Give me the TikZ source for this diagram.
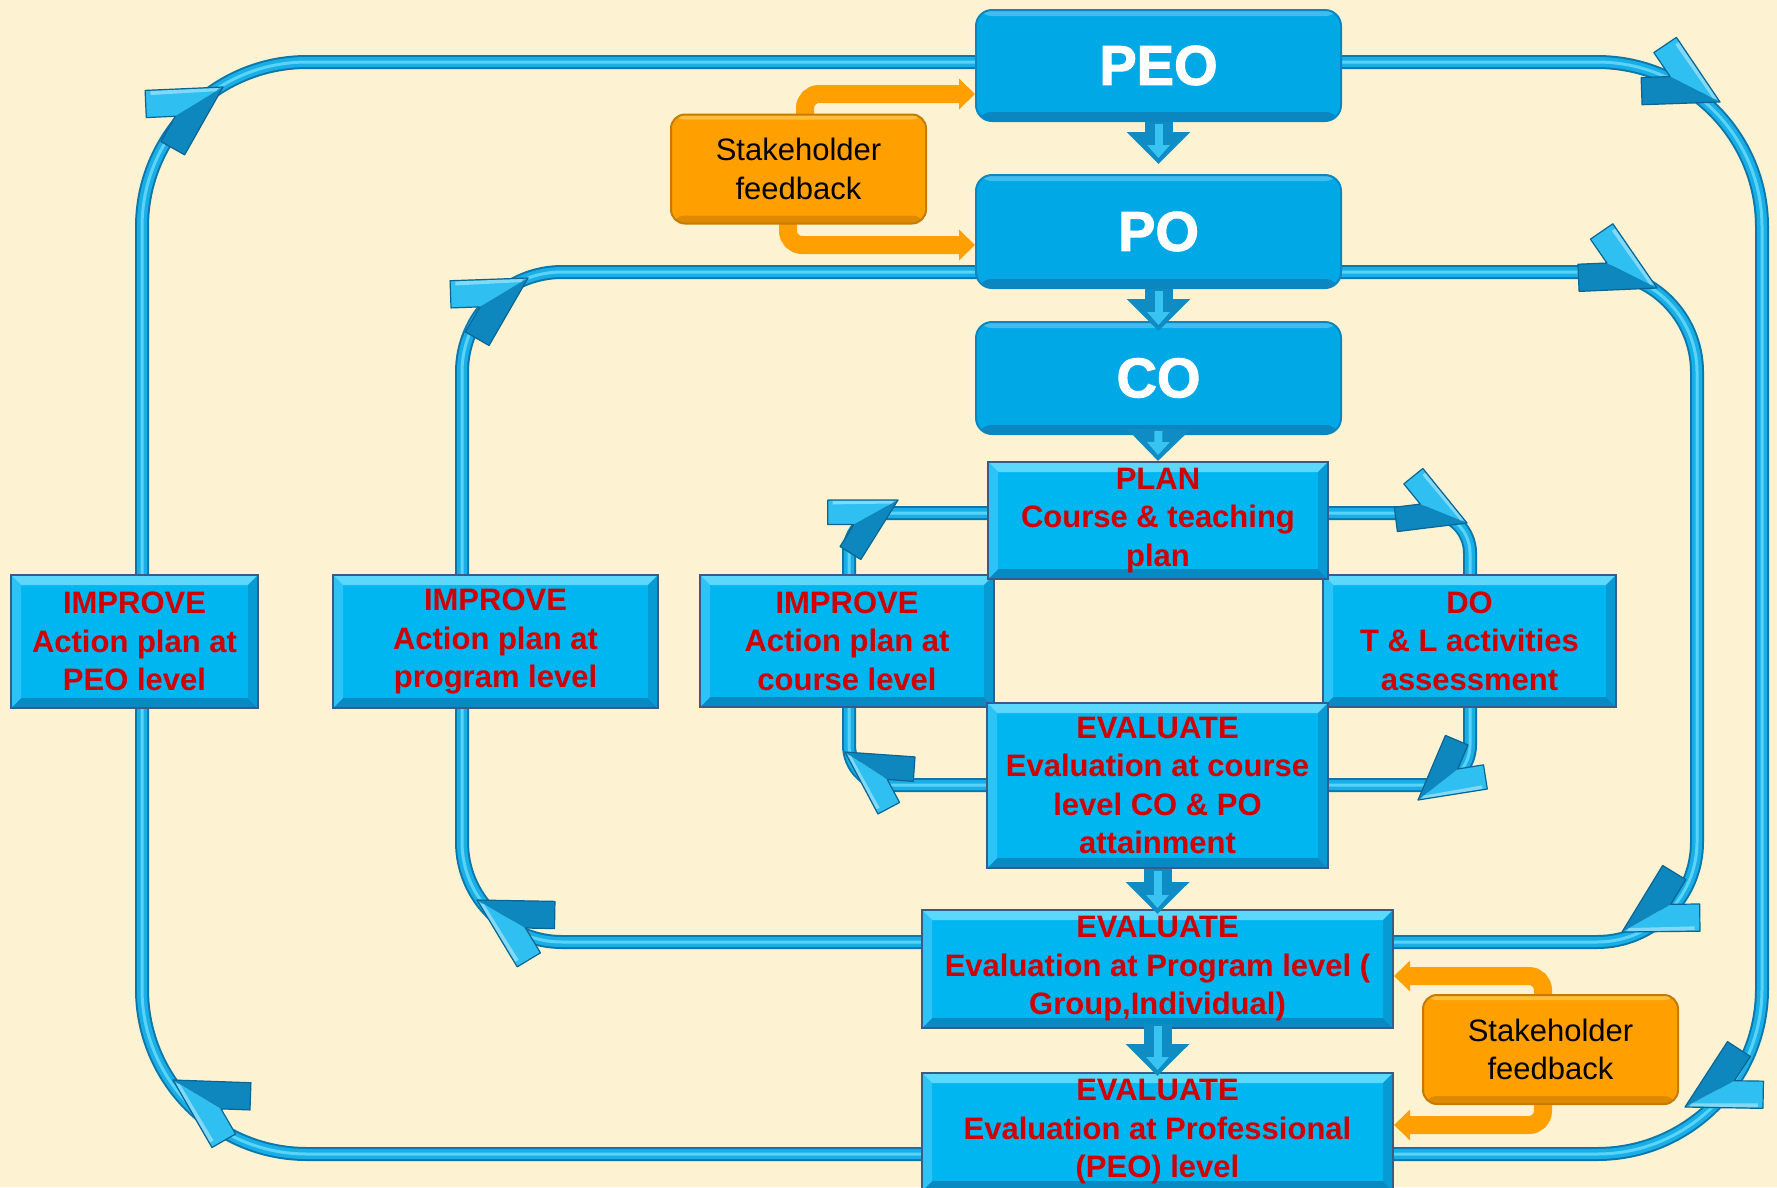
\documentclass[tikz,border=0pt]{standalone}
\usepackage{fontspec}
\setmainfont{Liberation Sans}
\newfontfamily\heavyfont{Liberation Sans}[FakeBold=1.8]
\usetikzlibrary{arrows.meta,calc}

\definecolor{bg}{HTML}{FDF3D3}
\definecolor{boxfill}{HTML}{00B6F0}
\definecolor{boxedge}{HTML}{3A5A88}
\definecolor{bevtop}{HTML}{5BD8FC}
\definecolor{bevleft}{HTML}{2CC4F6}
\definecolor{bevright}{HTML}{079BD3}
\definecolor{bevbot}{HTML}{0789C2}
\definecolor{topfill}{HTML}{00A8E6}
\definecolor{topedge}{HTML}{0A86C0}
\definecolor{redtxt}{HTML}{D00000}
\definecolor{tubedark}{HTML}{0B78AD}
\definecolor{tubemid}{HTML}{19AEE6}
\definecolor{tubelight}{HTML}{5AD3F8}
\definecolor{chevdark}{HTML}{0E86BE}
\definecolor{chevedge}{HTML}{0A6592}
\definecolor{chevlight}{HTML}{2FBFF1}
\definecolor{orng}{HTML}{FFA000}
\definecolor{orngdark}{HTML}{C77A00}
\definecolor{orngshade}{HTML}{DE8A00}
\definecolor{orngtop}{HTML}{FFBE3C}
\definecolor{arrowfill}{HTML}{0F8CC4}
\definecolor{arrowlight}{HTML}{38C4F2}

\newcommand\mychev[4]{%
  \begin{scope}[shift={(#1,#2)},rotate=#3,scale=#4]
  \fill[chevlight] (0,0) -- (-68.2,-37.8) -- (-81.4,-14) -- (-56,0) -- cycle;
  \fill[chevdark] (0,0) -- (-68.2,37.8) -- (-81.4,14) -- (-56,0) -- cycle;
  \fill[chevlight!60!white] (-4,-1.5) -- (-64,-34.5) -- (-66,-31) -- (-8,0) -- cycle;
  \draw[chevedge,line width=1.2pt,line join=round]
    (0,0) -- (-68.2,37.8) -- (-81.4,14) -- (-56,0) -- (-81.4,-14) -- (-68.2,-37.8) -- cycle;
  \end{scope}
}

\tikzset{
  bevelbox/.style={rectangle, draw=boxedge, line width=2pt, fill=boxfill,
    inner sep=0pt, align=center, text=redtxt,
    font=\fontsize{31}{38.5}\selectfont\bfseries,
    path picture={
      \fill[bevtop] (path picture bounding box.north west) -- (path picture bounding box.north east)
        -- ([xshift=-10pt,yshift=-10pt]path picture bounding box.north east)
        -- ([xshift=10pt,yshift=-10pt]path picture bounding box.north west) -- cycle;
      \fill[bevbot] (path picture bounding box.south west) -- (path picture bounding box.south east)
        -- ([xshift=-10pt,yshift=10pt]path picture bounding box.south east)
        -- ([xshift=10pt,yshift=10pt]path picture bounding box.south west) -- cycle;
      \fill[bevleft] (path picture bounding box.north west) -- (path picture bounding box.south west)
        -- ([xshift=10pt,yshift=10pt]path picture bounding box.south west)
        -- ([xshift=10pt,yshift=-10pt]path picture bounding box.north west) -- cycle;
      \fill[bevright] (path picture bounding box.north east) -- (path picture bounding box.south east)
        -- ([xshift=-10pt,yshift=10pt]path picture bounding box.south east)
        -- ([xshift=-10pt,yshift=-10pt]path picture bounding box.north east) -- cycle;
    }},
  roundbox/.style={rectangle, rounded corners=16pt, fill=topfill, draw=topedge, line width=2pt,
    inner sep=0pt, text=white, font=\heavyfont\bfseries\fontsize{56}{60}\selectfont,
    minimum width=365pt,
    path picture={
      \fill[topedge] ([yshift=9pt]path picture bounding box.south west) rectangle (path picture bounding box.south east);
      \fill[white,opacity=0.25] (path picture bounding box.north west) rectangle ([yshift=-6pt]path picture bounding box.north east);
    }},
  shbox/.style={rectangle, rounded corners=14pt, fill=orng, draw=orngdark, line width=2pt,
    inner sep=0pt, align=center, text=black, font=\fontsize{31}{38.5}\selectfont,
    minimum width=255pt, minimum height=109pt,
    path picture={
      \fill[orngshade] ([yshift=8pt]path picture bounding box.south west) rectangle (path picture bounding box.south east);
      \fill[orngtop] (path picture bounding box.north west) rectangle ([yshift=-5pt]path picture bounding box.north east);
    }},
  orarrow/.style={draw=orng, line width=18pt, rounded corners=14pt, -{Triangle[width=30pt,length=16pt]}},
  barrow/.style={draw=arrowfill, line width=28pt, -{Triangle[width=62pt,length=32pt]}},
  barrowin/.style={draw=arrowlight, line width=8pt, -{Triangle[width=22pt,length=13pt]}},
}

\begin{document}
\begin{tikzpicture}[x=1pt,y=-1pt]
\useasboundingbox (0,0) rectangle (1777,1187);
\fill[bg] (0,0) rectangle (1777,1187);

% loop extents
\coordinate (oNW) at (142,62);   \coordinate (oSE) at (1762,1154);
\coordinate (mNW) at (462,272);  \coordinate (mSE) at (1697,942);
\coordinate (iNW) at (849,513);  \coordinate (iSE) at (1470,785);

\foreach \lw/\lc in {14pt/tubedark,10pt/tubemid,3pt/tubelight}{
  \draw[line width=\lw, draw=\lc, rounded corners=165pt] (oNW) rectangle (oSE);
  \draw[line width=\lw, draw=\lc, rounded corners=100pt] (mNW) rectangle (mSE);
  \draw[line width=\lw, draw=\lc, rounded corners=40pt] (iNW) rectangle (iSE);
}

% chevrons
\mychev{223}{87}{31.5}{1}
\mychev{1720}{102}{-27}{1}
\mychev{1685}{1107}{208}{1}
\mychev{173}{1080}{149}{1}
\mychev{528}{278}{31}{1}
\mychev{1657}{288}{-26.5}{1}
\mychev{1622}{932}{209.6}{1}
\mychev{477}{900}{150}{1}
\mychev{898}{500}{29}{0.9}
\mychev{1467}{523}{-22}{0.9}
\mychev{1418}{800}{218}{0.9}
\mychev{845}{752}{147}{0.9}

% top column
\node[roundbox, minimum height=111pt] (PEO) at (1158.5,65.5) {PEO};
\node[roundbox, minimum height=113pt] (PO) at (1158.5,231.5) {PO};
\node[roundbox, minimum height=112pt] (CO) at (1158.5,378) {CO};

% course level cycle
\node[bevelbox, minimum width=294pt, minimum height=132pt] (IMPc) at (847,641) {IMPROVE\\Action plan at\\course level};
\node[bevelbox, minimum width=293pt, minimum height=132pt] (DO) at (1469.5,641) {DO\\T \& L activities\\assessment};
\node[bevelbox, minimum width=340pt, minimum height=117pt] (PLAN) at (1158,520.5) {PLAN\\Course \& teaching\\plan};
\node[bevelbox, minimum width=341pt, minimum height=165pt] (EVc) at (1157.5,785.5) {EVALUATE\\Evaluation at course\\level CO \& PO\\attainment};

% program / PEO level
\node[bevelbox, minimum width=471pt, minimum height=118pt] (EVp) at (1157.5,969) {EVALUATE\\Evaluation at Program level (\\Group,Individual)};
\node[bevelbox, minimum width=471pt, minimum height=118pt] (EVpeo) at (1157.5,1132) {EVALUATE\\Evaluation at Professional\\(PEO) level};
\node[bevelbox, minimum width=247pt, minimum height=133pt] (IMPpeo) at (134.5,641.5) {IMPROVE\\Action plan at\\PEO level};
\node[bevelbox, minimum width=325pt, minimum height=133pt] (IMPprog) at (495.5,641.5) {IMPROVE\\Action plan at\\program level};

% block arrows
\draw[barrow] (PEO.south) -- ([yshift=10pt]PO.north);
\draw[barrowin] ([yshift=-2pt]PEO.south) -- ([yshift=16pt]PO.north);
\draw[barrow] (PO.south) -- ([yshift=-10pt]CO.north);
\draw[barrowin] ([yshift=-2pt]PO.south) -- ([yshift=-4pt]CO.north);
\draw[barrow] ([yshift=6pt]CO.south) -- (PLAN.north);
\draw[barrowin] ([yshift=4pt]CO.south) -- ([yshift=6pt]PLAN.north);
\draw[barrow] (EVc.south) -- ([yshift=-5pt]EVp.north);
\draw[barrowin] ([yshift=-2pt]EVc.south) -- ([yshift=1pt]EVp.north);
\draw[barrow] ([yshift=5pt]EVp.south) -- ([yshift=-4pt]EVpeo.north);
\draw[barrowin] ([yshift=3pt]EVp.south) -- ([yshift=2pt]EVpeo.north);

% stakeholder feedback
\coordinate (SH1c) at (798.5,169);
\coordinate (SH2c) at (1550.5,1049.5);
\draw[orarrow] ([xshift=6.5pt]SH1c) |- ([yshift=-28.5pt]PEO.west);
\draw[orarrow] ([xshift=-10.5pt]SH1c) |- ([yshift=-13.5pt]PO.west);
\draw[orarrow] ([xshift=-7.5pt]SH2c) |- ([yshift=-7pt]EVp.east);
\draw[orarrow] ([xshift=-7.5pt]SH2c) |- ([yshift=7pt]EVpeo.east);
\node[shbox] (SH1) at (SH1c) {Stakeholder\\feedback};
\node[shbox] (SH2) at (SH2c) {Stakeholder\\feedback};
\end{tikzpicture}
\end{document}
